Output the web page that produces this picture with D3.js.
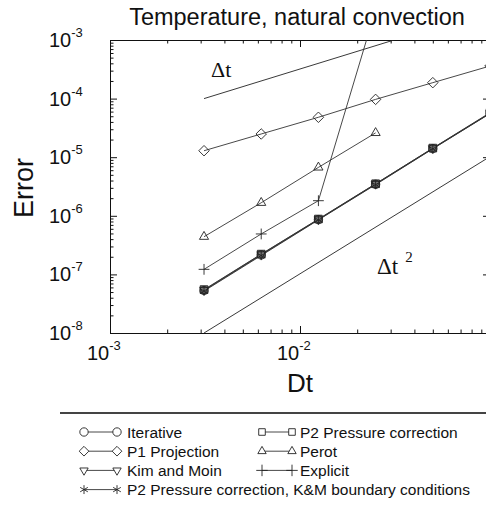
<!DOCTYPE html>
<html><head><meta charset="utf-8">
<script src="https://cdn.jsdelivr.net/npm/d3@7"></script>
<style>body{margin:0;background:#fff}svg{display:block}</style>
</head><body>
<script>
// ---- data ----
const dt = [0.003125, 0.00625, 0.0125, 0.025, 0.05, 0.1];
const iterative    = [5.3e-8, 2.15e-7, 8.6e-7, 3.45e-6, 1.40e-5, 5.6e-5];
const p2Pressure   = [5.5e-8, 2.22e-7, 8.8e-7, 3.52e-6, 1.43e-5, 5.75e-5];
const kimMoin      = [5.4e-8, 2.2e-7, 8.7e-7, 3.5e-6, 1.42e-5, 5.65e-5];
const p2KM         = [5.2e-8, 2.1e-7, 8.5e-7, 3.4e-6, 1.39e-5, 5.55e-5];
const p1Projection = [1.29e-5, 2.49e-5, 4.8e-5, 9.7e-5, 1.87e-4, 3.6e-4];
const perot        = [4.4e-7, 1.67e-6, 6.7e-6, 2.6e-5];
const explicit     = [1.22e-7, 4.9e-7, 1.81e-6, 3.3e-3];
const refDt     = [0.003125, 0.1];
const refOrder1 = [1e-4, 3.2e-3];
const refOrder2 = [1e-8, 1.024e-5];
const xTickVals = [1e-3, 1e-2, 1e-1];
const xTickLabelVals = [1e-3, 1e-2];
const xTickExp  = ["-3", "-2"];
const yTickVals = [1e-8, 1e-7, 1e-6, 1e-5, 1e-4, 1e-3];
const yTickExp  = ["-8", "-7", "-6", "-5", "-4", "-3"];
const titleText = "Temperature, natural convection";

const W = 486, H = 509;
const L = 110, R = 490, T = 40, B = 333;
const svg = d3.select("body").append("svg").attr("width", W).attr("height", H)
  .style("font-family", "Liberation Sans, Arial, sans-serif");

const x = d3.scaleLog().domain([1e-3, 1e-1]).range([L, R]);
const y = d3.scaleLog().domain([1e-8, 1e-3]).range([B, T]);

svg.append("defs").append("clipPath").attr("id", "clip")
  .append("rect").attr("x", L).attr("y", T).attr("width", R - L).attr("height", B - T);

// ---- axes (frame with inward ticks) ----
const minorX = [], minorY = [];
[1e-3, 1e-2].forEach(d => { for (let k = 2; k <= 9; k++) minorX.push(d * k); });
[1e-8, 1e-7, 1e-6, 1e-5, 1e-4].forEach(d => { for (let k = 2; k <= 9; k++) minorY.push(d * k); });

function addAxis(gen, scale, vals, size, transform) {
  const g = svg.append("g").attr("transform", transform)
    .call(gen(scale).tickValues(vals).tickSize(size).tickSizeOuter(0).tickFormat(""));
  g.selectAll("path,line").attr("stroke", "#111").attr("stroke-width", 1);
  return g;
}
addAxis(d3.axisBottom, x, xTickVals, -7, `translate(0,${B})`);
addAxis(d3.axisBottom, x, minorX, -3.5, `translate(0,${B})`).select("path").remove();
addAxis(d3.axisTop, x, xTickVals, -7, `translate(0,${T})`);
addAxis(d3.axisTop, x, minorX, -3.5, `translate(0,${T})`).select("path").remove();
addAxis(d3.axisLeft, y, yTickVals, -7, `translate(${L},0)`);
addAxis(d3.axisLeft, y, minorY, -3.5, `translate(${L},0)`).select("path").remove();
addAxis(d3.axisRight, y, yTickVals, -7, `translate(${R},0)`);
addAxis(d3.axisRight, y, minorY, -3.5, `translate(${R},0)`).select("path").remove();

// tick labels
xTickLabelVals.forEach((v, i) => {
  const t = svg.append("text").attr("x", x(v) - 23).attr("y", B + 27)
    .attr("font-size", 20).attr("fill", "#111");
  t.append("tspan").text("10");
  t.append("tspan").attr("dy", -10).attr("font-size", 13).text(xTickExp[i]);
});
yTickVals.forEach((v, i) => {
  const t = svg.append("text").attr("x", 49).attr("y", y(v) + 7)
    .attr("font-size", 20).attr("fill", "#111");
  t.append("tspan").text("10");
  t.append("tspan").attr("dy", -10).attr("font-size", 13).text(yTickExp[i]);
});

// titles
svg.append("text").attr("x", 297).attr("y", 25).attr("text-anchor", "middle")
  .attr("font-size", 23.5).attr("fill", "#111").text(titleText);
svg.append("text").attr("x", 300).attr("y", 392).attr("text-anchor", "middle")
  .attr("font-size", 26).attr("fill", "#111").text("Dt");
svg.append("text").attr("transform", "translate(33,188) rotate(-90)").attr("text-anchor", "middle")
  .attr("font-size", 27).attr("fill", "#111").text("Error");

// ---- plot content ----
const plot = svg.append("g").attr("clip-path", "url(#clip)");
const line = d3.line().x(d => x(d[0])).y(d => y(d[1]));

function drawRef(vals) {
  plot.append("path").datum(refDt.map((d, i) => [d, vals[i]]))
    .attr("d", line).attr("fill", "none").attr("stroke", "#222").attr("stroke-width", 0.9);
}
drawRef(refOrder1);
drawRef(refOrder2);

const series = [
  {vals: p1Projection, sym: d3.symbolDiamond2, rot: 0, size: 70, fill: "none"},
  {vals: perot, sym: d3.symbolTriangle2, rot: 0, size: 60, fill: "none"},
  {vals: explicit, sym: d3.symbolPlus, rot: 0, size: 40, fill: "none"},
  {vals: p2Pressure, sym: d3.symbolSquare2, rot: 0, size: 75, fill: "#777"},
  {vals: iterative, sym: d3.symbolCircle, rot: 0, size: 55, fill: "none"},
  {vals: kimMoin, sym: d3.symbolTriangle2, rot: 180, size: 55, fill: "none"},
  {vals: p2KM, sym: d3.symbolAsterisk, rot: 0, size: 60, fill: "none"},
];
series.forEach(s => {
  const pts = s.vals.map((v, i) => [dt[i], v]);
  plot.append("path").datum(pts).attr("d", line).attr("fill", "none")
    .attr("stroke", "#333").attr("stroke-width", 0.9);
});
series.forEach(s => {
  const pts = s.vals.map((v, i) => [dt[i], v]).filter(p => p[1] <= 1e-3);
  svg.append("g").selectAll("path").data(pts).join("path")
    .attr("transform", p => `translate(${x(p[0])},${y(p[1])}) rotate(${s.rot})`)
    .attr("d", d3.symbol().type(s.sym).size(s.size))
    .attr("fill", s.fill).attr("stroke", "#222").attr("stroke-width", 0.9);
});

// reference labels
const r1 = svg.append("text").attr("x", 211).attr("y", 77)
  .attr("font-family", "Liberation Serif, Times New Roman, serif").attr("font-size", 22).attr("fill", "#111");
r1.text("\u0394t");
const r2 = svg.append("text").attr("x", 377).attr("y", 274)
  .attr("font-family", "Liberation Serif, Times New Roman, serif").attr("font-size", 23).attr("fill", "#111");
r2.append("tspan").text("\u0394t");
r2.append("tspan").attr("dx", 7).attr("dy", -12).attr("font-size", 15).text("2");

// ---- legend ----
svg.append("line").attr("x1", 60).attr("x2", 486).attr("y1", 413).attr("y2", 413)
  .attr("stroke", "#444").attr("stroke-width", 2);
const legendItems = [
  {label: "Iterative", sym: d3.symbolCircle, rot: 0, size: 55, col: 0, row: 0},
  {label: "P2 Pressure correction", sym: d3.symbolSquare2, rot: 0, size: 55, col: 1, row: 0},
  {label: "P1 Projection", sym: d3.symbolDiamond2, rot: 0, size: 60, col: 0, row: 1},
  {label: "Perot", sym: d3.symbolTriangle2, rot: 0, size: 50, col: 1, row: 1},
  {label: "Kim and Moin", sym: d3.symbolTriangle2, rot: 180, size: 50, col: 0, row: 2},
  {label: "Explicit", sym: d3.symbolPlus, rot: 0, size: 45, col: 1, row: 2},
  {label: "P2 Pressure correction, K&M boundary conditions", sym: d3.symbolAsterisk, rot: 0, size: 55, col: 0, row: 3},
];
const colX = [[84, 117, 127], [262, 292, 300]];
legendItems.forEach(it => {
  const [a, b, tx] = colX[it.col];
  const cy = 432 + it.row * 19.2;
  const g = svg.append("g");
  g.append("line").attr("x1", a).attr("x2", b).attr("y1", cy).attr("y2", cy)
    .attr("stroke", "#333").attr("stroke-width", 0.9);
  [a, b].forEach(px => g.append("path")
    .attr("transform", `translate(${px},${cy}) rotate(${it.rot})`)
    .attr("d", d3.symbol().type(it.sym).size(it.size))
    .attr("fill", "#fff").attr("stroke", "#222").attr("stroke-width", 0.9));
  g.append("text").attr("x", tx).attr("y", cy + 5.5).attr("font-size", 15.5)
    .attr("fill", "#111").text(it.label);
});
</script>
</body></html>
